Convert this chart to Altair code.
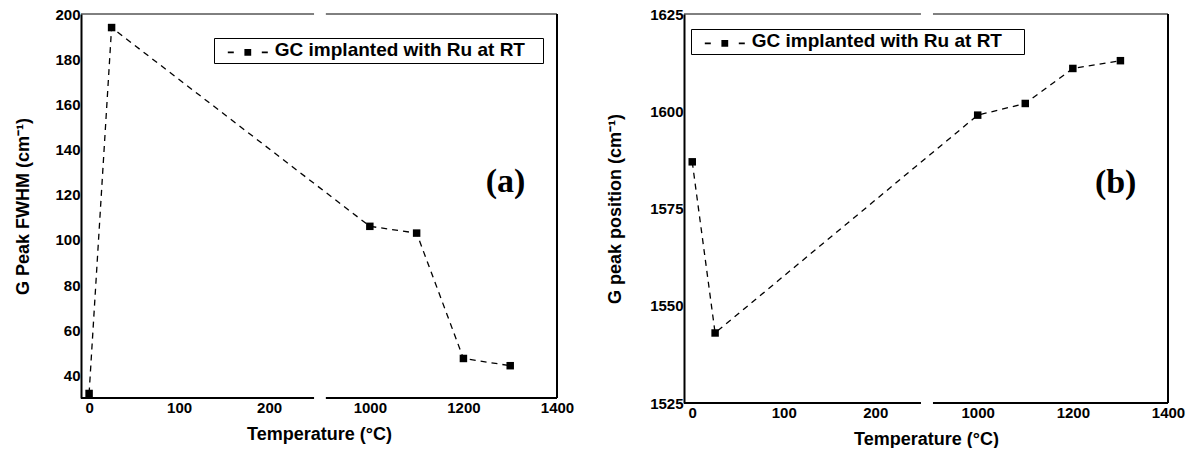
import altair as alt
import pandas as pd

# ---------------- data ----------------
temperature = [0, 25, 1000, 1100, 1200, 1300]          # °C (0 = virgin GC, 25 = RT)
fwhm = [32, 194, 106, 103, 47.5, 44.3]                  # G peak FWHM (cm-1)
g_position = [1587, 1543, 1599, 1602, 1611, 1613]       # G peak position (cm-1)
series_name = "GC implanted with Ru at RT"

x_tick_temps = [0, 100, 200, 1000, 1200, 1400]
x_tick_labels = ["0", "100", "200", "1000", "1200", "1400"]
fwhm_ticks = [40, 60, 80, 100, 120, 140, 160, 180, 200]
pos_ticks = [1525, 1550, 1575, 1600, 1625]

# ---------------- broken temperature axis ----------------
T_MIN, LOW_MAX, HIGH_MIN, T_MAX = -9, 250, 906, 1400
HIGH_ANCHOR, HIGH_SCALE = 312, 0.52


def to_u(t):
    return t if t < 600 else HIGH_ANCHOR + (t - 1000) * HIGH_SCALE


def u_expr(f):
    return (f"datum.{f} < 600 ? datum.{f} : "
            f"{HIGH_ANCHOR} + (datum.{f} - 1000) * {HIGH_SCALE}")


tick_u = [to_u(t) for t in x_tick_temps]
label_expr = ""
for uu, lab in zip(tick_u, x_tick_labels):
    label_expr += f"abs(datum.value - {uu}) < 0.5 ? '{lab}' : "
label_expr += "''"

x_dom = [to_u(T_MIN), to_u(T_MAX)]
seg_df = pd.DataFrame({"t1": [T_MIN, HIGH_MIN], "t2": [LOW_MAX, T_MAX]})

FONT = "Liberation Sans"


def legend_path(ext):
    # dash - square - dash, in pixel units (symbolSize 4 -> scale 1)
    return ("M-20,1.6H-14V3.2H-20Z "
            "M-3.4,-1H3.4V5.8H-3.4Z "
            "M14,1.6H20V3.2H14Z "
            f"M{ext},2.4")


def panel(values, ytitle, ydomain, yticks, width, height, lx, ly, ext,
          tag, tag_y, title_pad):
    df = pd.DataFrame({"T": temperature, "v": values,
                       "series": [series_name] * len(values)})
    base = alt.Chart(df).transform_calculate(u=u_expr("T"))
    xs = alt.Scale(domain=x_dom, nice=False, zero=False)
    ys = alt.Scale(domain=ydomain, nice=False, zero=False)

    line = base.mark_line(color="black", strokeDash=[6, 5], strokeWidth=1.3).encode(
        x=alt.X("u:Q", scale=xs,
                axis=alt.Axis(values=tick_u, labelExpr=label_expr,
                              title="Temperature (°C)", domain=False, ticks=False,
                              labelPadding=2, titlePadding=10, labelFlush=False)),
        y=alt.Y("v:Q", scale=ys,
                axis=alt.Axis(values=yticks, format="d", title=ytitle, ticks=False,
                              labelPadding=1, domainWidth=2, domainColor="black",
                              titlePadding=title_pad)),
    )
    pts = base.mark_point(shape="square", filled=True, size=56, opacity=1).encode(
        x=alt.X("u:Q", scale=xs),
        y=alt.Y("v:Q", scale=ys),
        color=alt.Color("series:N", scale=alt.Scale(range=["black"]),
                        legend=alt.Legend(
                            title=None, orient="none", legendX=lx, legendY=ly,
                            symbolType=legend_path(ext), symbolSize=4,
                            symbolOffset=21.8, labelOffset=17.5,
                            symbolFillColor="black", symbolStrokeWidth=0,
                            labelFont=FONT, labelFontSize=19, labelFontWeight="bold",
                            labelColor="black", labelLimit=500, padding=2.5,
                            strokeColor="black", fillColor="white")),
    )
    segs = alt.Chart(seg_df).transform_calculate(u1=u_expr("t1"), u2=u_expr("t2"))
    bottom = segs.mark_rule(color="black", strokeWidth=2).encode(
        x=alt.X("u1:Q", scale=xs), x2="u2:Q", y=alt.value(height))
    top = segs.mark_rule(color="black", strokeWidth=1).encode(
        x=alt.X("u1:Q", scale=xs), x2="u2:Q", y=alt.value(0))
    right = segs.mark_rule(color="black", strokeWidth=2).encode(
        x=alt.value(width), y=alt.value(0), y2=alt.value(height))
    text = alt.Chart(pd.DataFrame({"tag": [tag]})).mark_text(
        font="Liberation Serif", fontWeight="bold", fontSize=34, color="black"
    ).encode(x=alt.datum(to_u(1290)), y=alt.datum(tag_y), text="tag:N")

    return alt.layer(line, pts, bottom, top, right, text).properties(
        width=width, height=height)


pa = panel(fwhm, "G Peak FWHM (cm⁻¹)", [30, 200], fwhm_ticks, 476, 384,
           133, 24, 292, "(a)", 125.5, 22)
pb = panel(g_position, "G peak position (cm⁻¹)", [1525, 1625], pos_ticks, 484, 389,
           7, 15, 296, "(b)", 1581.5, 25)

chart = alt.hconcat(pa, pb, spacing=32).resolve_scale(
    color="independent"
).configure_view(stroke=None).configure_axis(
    grid=False, labelFont=FONT, labelFontSize=15, labelFontWeight="bold",
    labelColor="black", titleFont=FONT, titleFontSize=18, titleFontWeight="bold",
    titleColor="black", domainColor="black", domainWidth=2
).properties(padding={"left": 14, "top": 7, "right": 5, "bottom": 0},
             background="white")

chart.save("out.html", embed_options={"renderer": "svg", "actions": False})
